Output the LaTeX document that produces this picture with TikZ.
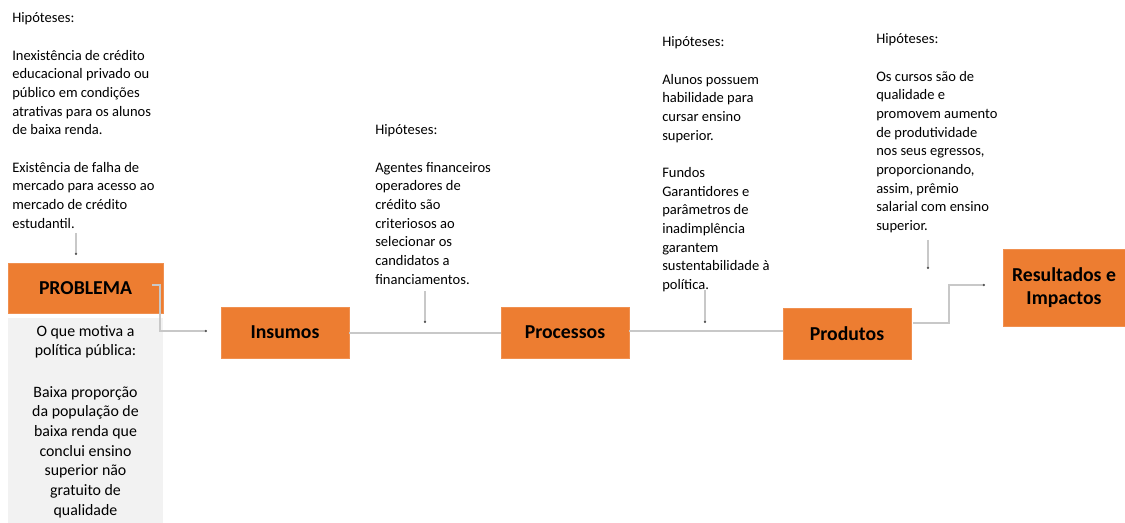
\documentclass[tikz,border=0pt]{standalone}
\usepackage{fontspec}
\setmainfont{Carlito}
\usetikzlibrary{arrows.meta}
\definecolor{orng}{HTML}{ED7D31}
\definecolor{lgray}{HTML}{F2F2F2}
\definecolor{conn}{HTML}{C8C8C8}
\begin{document}
\begin{tikzpicture}[x=0.75pt,y=-0.75pt,
  stagebox/.style={fill=orng,draw=orng!85!white,line width=0.6pt,inner sep=0pt,font=\fontsize{14.8}{17}\selectfont\bfseries,align=center},
  hyptext/.style={anchor=north west,inner sep=0pt,align=left,font=\fontsize{10.9}{14}\selectfont},
  conline/.style={draw=conn,line width=0.8pt,-{Circle[length=1.6pt,color=black!70,fill=black!70]}}]
\useasboundingbox (0,0) rectangle (1125,523);
% boxes
\node[stagebox,minimum width=155*0.75pt,minimum height=50*0.75pt] (prob) at (85.5,288) {PROBLEMA};
\node[fill=lgray,inner sep=0pt,minimum width=155*0.75pt,minimum height=205*0.75pt] (motbox) at (85.5,420.5) {};
\node[anchor=north,inner sep=0pt,align=center,font=\fontsize{11.9}{14.8}\selectfont] (mottext) at (85.5,325)
 {O que motiva a\\política pública:\\[16pt]Baixa proporção\\da população de\\baixa renda que\\conclui ensino\\superior não\\gratuito de\\qualidade};
\node[stagebox,minimum width=128*0.75pt,minimum height=51*0.75pt] (ins) at (285,332.5) {Insumos};
\node[stagebox,minimum width=128*0.75pt,minimum height=51*0.75pt] (proc) at (565,332.5) {Processos};
\node[stagebox,minimum width=128*0.75pt,minimum height=51*0.75pt] (prod) at (847,333.5) {Produtos};
\node[stagebox,minimum width=122*0.75pt,minimum height=77*0.75pt] (res) at (1064,287.5) {Resultados e\\Impactos};
% hypotheses
\node[hyptext] (h1) at (12,12.5) {Hipóteses:\\[14pt]Inexistência de crédito\\educacional privado ou\\público em condições\\atrativas para os alunos\\de baixa renda.\\[14pt]Existência de falha de\\mercado para acesso ao\\mercado de crédito\\estudantil.};
\node[hyptext] (h2) at (375,124.5) {Hipóteses:\\[14pt]Agentes financeiros\\operadores de\\crédito são\\criteriosos ao\\selecionar os\\candidatos a\\financiamentos.};
\node[hyptext] (h3) at (662,36.5) {Hipóteses:\\[14pt]Alunos possuem\\habilidade para\\cursar ensino\\superior.\\[14pt]Fundos\\Garantidores e\\parâmetros de\\inadimplência\\garantem\\sustentabilidade à\\política.};
\node[hyptext] (h4) at (876,33.5) {Hipóteses:\\[14pt]Os cursos são de\\qualidade e\\promovem aumento\\de produtividade\\nos seus egressos,\\proporcionando,\\assim, prêmio\\salarial com ensino\\superior.};
% connector end points
\coordinate (e1) at (76,255);
\coordinate (e2) at (425,323);
\coordinate (e3) at (705,323);
\coordinate (e4) at (928,269);
\coordinate (s1) at (76,233);
\coordinate (s2) at (425,291);
\coordinate (s3) at (705,290);
\coordinate (s4) at (928,240);
\draw[conline] (s1) -- (e1);
\draw[conline] (s2) -- (e2);
\draw[conline] (s3) -- (e3);
\draw[conline] (s4) -- (e4);
\coordinate (pa) at (152,285);
\coordinate (pb) at (207,331);
\draw[conline] (pa) -- (160,285) |- (pb);
\draw[draw=conn,line width=0.8pt] (ins.east |- 0,333) -- (proc.west |- 0,333);
\draw[draw=conn,line width=0.8pt] (proc.east |- 0,331) -- (prod.west |- 0,331);
\coordinate (qa) at (913,323);
\coordinate (qb) at (985,285);
\draw[conline] (qa) -- (949,323) |- (qb);
\end{tikzpicture}
\end{document}
